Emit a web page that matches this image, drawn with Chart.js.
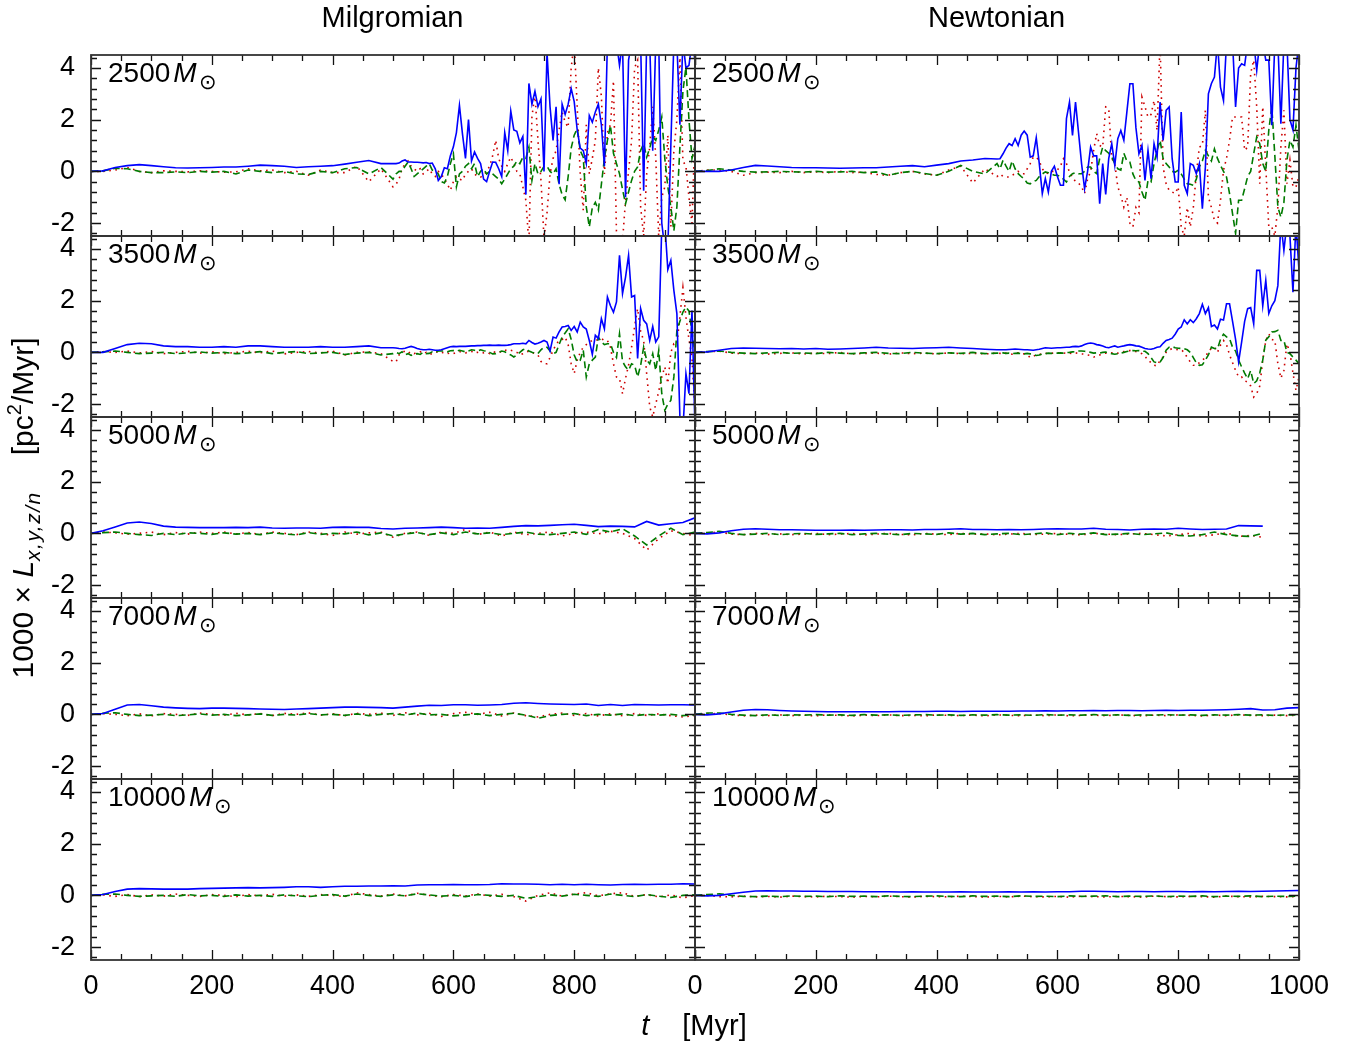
<!DOCTYPE html>
<html>
<head>
<meta charset="utf-8">
<title>L components vs time</title>
<script src="https://cdn.jsdelivr.net/npm/chart.js@4/dist/chart.umd.min.js"></script>
<style>
body{margin:0;background:#fff}
#wrap{position:relative;width:1358px;height:1046px;overflow:hidden}
#c{position:absolute;left:0;top:0}
.txt{position:absolute;font-family:'Liberation Sans',Arial,sans-serif;font-size:28px;line-height:28px;color:#000;white-space:nowrap}
.txt i{font-style:italic}
.mass sub{font-size:21px;line-height:0;vertical-align:-7px;margin-left:2px}
#ytitle sub{font-size:21px;line-height:0;vertical-align:-7px;letter-spacing:1.5px}
#ytitle sup{font-size:20px;line-height:0;vertical-align:12px}
</style>
</head>
<body>
<div id="wrap">
<canvas id="c" width="1358" height="1046"></canvas>
<div class="txt" style="left:91px;width:603px;text-align:center;top:3px;font-size:29px">Milgromian</div>
<div class="txt" style="left:694px;width:605px;text-align:center;top:3px;font-size:29px">Newtonian</div>
<div class="txt" id="ytitle" style="left:-187px;top:494px;width:420px;text-align:center;transform:rotate(-90deg);font-size:30px">1000 × <i>L</i><sub><i>x,y,z/n</i></sub><span style="margin-left:36px">[pc<sup>2</sup>/Myr]</span></div>
<div class="txt" style="left:494px;top:1011px;width:400px;text-align:center;font-size:29px"><i>t</i><span style="margin-left:33px">[Myr]</span></div>
</div>
<script>
// time grids (Myr)
const tQ = [0,20,40,60,80,100,120,140,160,180,200,220,240,260,280,300,320,340,360,380,
  400,420,440,460,480,500,520,540,560,580,600,620,640,660,680,700,720,740,760,780,
  800,820,840,860,880,900,920,940,960,980,1000];
const tN = [0,20,40,60,80,100,120,140,160,180,200,220,240,260,280,300,320,340,360,380,400,420,440,460,480,500,
  505,510,515,520,525,530,535,540,545,550,
  555,560,565,570,575,580,585,590,595,600,
  605,610,615,620,625,630,635,640,645,650,
  655,660,665,670,675,680,685,690,695,700,
  705,710,715,720,725,730,735,740,745,750,
  755,760,765,770,775,780,785,790,795,800,
  805,810,815,820,825,830,835,840,845,850,
  855,860,865,870,875,880,885,890,895,900,
  905,910,915,920,925,930,935,940,945,950,
  955,960,965,970,975,980,985,990,995,1000];

const masses = ['2500', '3500', '5000', '7000', '10000'];
const xTicksM = [0, 200, 400, 600, 800];
const xTicksN = [0, 200, 400, 600, 800, 1000];
const yTicks = [-2, 0, 2, 4];

// ---- 2500 Msun (tN grid) ----
const mil2500Blue = [0,0.02,0.15,0.22,0.26,0.22,0.18,0.14,0.13,0.14,0.15,0.17,0.17,0.2,0.24,0.22,0.2,0.15,0.18,0.2,0.22,0.28,0.35,0.42,0.3,0.3,
  0.3,0.32,0.4,0.44,0.36,0.36,0.35,0.35,0.34,0.33,
  0.34,0.3,0.32,0.1,-0.35,-0.2,0.14,0.1,0.6,0.95,
  1.5,2.55,1.45,0.5,2.0,0.4,0.75,0.5,0.3,-0.3,
  -0.4,0.0,0.36,0.35,0.1,-0.2,1.5,0.8,2.33,1.6,
  1.55,1.1,1.35,-0.9,3.4,2.6,3.1,2.5,2.8,0.0,
  4.6,2.5,1.2,2.5,-0.5,2.6,2.2,2.6,3.2,2.7,
  1.6,0.9,0.8,0.3,2.16,1.9,2.3,2.6,1.8,0.2,
  5.0,5.5,5.0,5.0,4.1,5.0,-1.0,4.3,5.0,5.0,
  5.0,5.0,-0.75,5.0,5.0,0.8,5.0,5.0,-2.0,-3.0,
  -3.0,1.0,5.0,5.0,1.8,5.0,4.0,4.1,5.0,4.3];
const mil2500Green = [0,0.02,0.12,0.1,0.0,-0.05,-0.05,-0.02,-0.05,0.0,-0.03,0.0,-0.1,0.05,0.0,-0.05,0.0,-0.1,-0.12,0.0,-0.05,0.1,0.15,-0.1,0.15,-0.3,
  -0.1,0.0,0.0,0.2,0.36,0.1,-0.2,-0.1,0.0,0.1,
  0.2,0.3,0.05,0.0,-0.1,-0.4,-0.45,-0.2,0.3,0.68,
  -0.6,-0.1,0.0,0.2,0.3,0.1,0.3,-0.2,0.0,0.1,
  -0.1,0.0,-0.1,-0.2,-0.3,-0.48,-0.3,-0.1,0.1,0.2,
  0.4,0.3,0.55,0.5,0.94,-0.35,0.3,-0.1,0.0,0.2,
  0.2,0.0,-0.1,0.1,-0.5,-0.9,-1.1,-0.2,0.9,1.4,
  1.65,0.8,0.55,-1.38,-2.15,-1.4,-1.2,-1.5,-0.5,0.5,
  1.2,1.78,0.7,0.3,-0.09,-0.7,-1.25,-0.8,-0.35,0.0,
  0.17,0.81,1.07,0.55,0.9,1.33,1.2,1.6,2.1,0.5,
  -0.6,-1.38,-2.3,-1.38,0.94,3.1,4.03,2.0,0.5,1.0];
const mil2500Red = [0,0.0,0.05,0.15,0.0,-0.05,0.02,0.0,-0.02,0.02,0.0,-0.03,-0.02,0.1,0.02,0.05,-0.05,0.0,-0.15,0.05,-0.05,-0.05,0.2,-0.4,0.1,-0.6,
  -0.5,-0.3,0.1,0.3,0.4,0.2,0.1,0.0,0.1,-0.1,
  0.0,0.1,-0.1,-0.2,0.0,-0.1,-0.3,-0.5,-0.73,-0.4,
  -0.2,-0.3,-0.35,-0.1,0.0,0.1,-0.1,-0.2,-0.22,-0.15,
  0.0,0.2,0.6,1.2,0.5,0.2,0.0,0.3,0.55,0.3,
  0.0,-0.1,-0.6,-1.12,-2.8,2.1,3.0,1.2,-0.35,-2.6,
  -1.6,-0.1,0.5,0.8,1.6,2.3,1.9,1.7,4.0,5.0,
  2.5,-0.1,-1.5,1.8,-0.1,0.5,1.2,4.0,2.9,-0.1,
  1.5,1.8,3.5,-2.4,-2.6,-2.7,-1.12,0.0,1.2,4.0,
  4.3,-1.38,-2.5,-0.1,0.95,2.5,0.55,-2.6,-1.0,-0.6,
  1.4,-2.15,0.8,2.0,4.4,0.4,0.2,-1.0,-2.0,1.5];
const newt2500Blue = [0,0.0,0.0,0.05,0.15,0.23,0.21,0.18,0.15,0.14,0.14,0.13,0.12,0.13,0.14,0.14,0.17,0.2,0.22,0.18,0.24,0.3,0.4,0.44,0.5,0.48,
  0.49,0.68,0.9,1.07,1.0,1.26,1.0,1.4,1.56,1.4,
  0.55,0.6,1.3,0.3,-0.86,-0.28,-0.8,0.0,0.2,-0.2,
  -0.54,-0.54,2.04,2.68,1.39,2.68,1.5,0.3,-0.67,0.0,
  0.94,0.6,0.6,-1.25,0.3,-0.89,0.5,1.07,0.23,1.26,
  1.58,1.2,2.29,3.39,3.39,1.69,0.68,1.0,-0.35,0.81,
  -0.28,1.07,0.55,2.68,1.2,2.36,2.49,0.49,-0.41,-0.41,
  2.29,-0.54,-0.86,0.3,0.23,-0.09,0.3,-1.44,0.17,3.0,
  3.4,3.65,5.0,3.26,2.74,5.0,5.0,5.0,2.49,4.0,
  4.16,4.1,5.0,5.0,5.0,3.9,5.0,5.0,4.3,4.3,
  1.78,5.0,5.0,1.84,5.0,5.0,2.0,1.6,4.0,5.0];
const newt2500Green = [0,0.03,0.1,0.05,0.0,-0.03,-0.02,0.0,-0.02,-0.03,0.0,-0.03,-0.02,0.0,-0.05,-0.02,-0.15,-0.05,0.0,-0.08,-0.15,0.0,0.23,0.0,-0.1,0.3,
  0.1,0.43,0.2,0.0,0.4,0.1,-0.09,-0.2,-0.3,-0.45,
  -0.48,-0.4,-0.35,-0.2,-0.1,-0.02,-0.05,-0.1,-0.15,-0.15,
  -0.2,-0.3,-0.41,-0.2,-0.09,-0.05,-0.09,-0.09,0.0,0.17,
  0.17,0.0,-0.09,0.5,0.94,0.8,0.7,0.55,0.3,0.1,
  0.05,0.7,0.4,0.36,-0.1,-0.35,-0.41,-0.8,-1.12,-0.35,
  -0.41,0.3,0.81,1.2,0.5,0.3,0.17,0.0,-0.03,0.04,
  -0.1,-0.3,-0.48,-0.5,-0.54,-0.3,0.17,0.4,0.81,0.6,
  0.4,0.87,0.5,0.23,0.0,-0.22,-0.86,-1.64,-2.4,-1.12,
  -1.12,-0.67,-0.2,0.0,0.68,1.33,1.07,0.3,0.0,1.6,
  2.49,0.6,-1.38,-1.77,-1.2,0.43,1.2,0.94,1.78,0.81];
const newt2500Red = [0,0.05,0.05,0.0,-0.15,-0.05,-0.03,-0.05,0.0,-0.05,-0.02,-0.05,0.0,-0.05,-0.03,-0.12,-0.15,-0.05,0.0,-0.1,-0.15,0.05,0.2,-0.45,0.1,-0.2,
  -0.1,-0.2,-0.22,-0.22,-0.15,-0.09,0.0,-0.09,-0.09,0.1,
  0.3,0.55,0.55,0.4,0.1,-0.05,-0.09,0.0,0.0,0.05,
  0.2,0.49,0.3,-0.03,-0.22,-0.4,-0.45,-0.6,-0.86,-0.3,
  0.0,0.81,1.46,1.0,0.94,2.49,2.43,0.5,0.3,-0.6,
  -0.93,-1.38,-1.0,-2.0,-2.15,-1.4,-1.6,2.87,2.5,2.1,
  2.2,2.74,1.58,5.0,0.17,-0.48,-0.73,-0.8,-0.86,-0.6,
  -2.15,-2.5,-1.4,-2.15,-1.4,-0.1,0.94,1.0,2.36,-0.99,
  -1.4,-1.9,-2.0,-1.12,0.04,0.5,1.2,2.1,2.1,2.1,
  2.1,0.81,0.94,3.8,4.3,2.5,-0.48,2.5,0.17,-2.15,
  -2.15,-2.5,-1.38,0.94,2.36,-0.48,0.43,-0.6,-0.6,-0.2];

// ---- 3500 Msun (tN grid) ----
const mil3500Blue = [0,0.0,0.15,0.3,0.35,0.33,0.25,0.22,0.22,0.2,0.2,0.22,0.2,0.25,0.25,0.22,0.2,0.2,0.2,0.22,0.2,0.2,0.22,0.25,0.18,0.18,
  0.17,0.15,0.14,0.16,0.2,0.23,0.2,0.15,0.12,0.1,
  0.1,0.12,0.1,0.08,0.08,0.1,0.14,0.18,0.22,0.23,
  0.22,0.23,0.23,0.23,0.24,0.25,0.25,0.26,0.26,0.27,
  0.27,0.28,0.27,0.27,0.28,0.27,0.27,0.28,0.3,0.33,
  0.33,0.33,0.35,0.33,0.46,0.38,0.32,0.35,0.4,0.46,
  0.4,0.05,0.59,0.55,0.79,0.98,1.0,1.04,0.85,1.0,
  0.79,1.17,0.98,0.9,0.46,-0.08,0.66,0.53,1.3,0.91,
  2.14,1.8,1.55,1.95,3.75,2.27,2.91,3.75,2.14,2.2,
  -0.24,1.69,1.24,1.1,0.46,1.0,0.4,0.6,4.9,5.0,
  3.2,3.56,2.4,1.5,-2.5,-3.0,-0.82,-1.6,1.62,-3.0];
const mil3500Green = [0,0.02,0.05,0.0,-0.05,-0.03,0.0,-0.05,-0.02,0.02,-0.03,0.0,-0.05,-0.02,0.03,-0.05,0.0,0.03,-0.05,-0.02,0.0,-0.08,-0.03,0.0,-0.1,-0.05,
  0.0,-0.05,0.02,-0.1,-0.05,-0.12,-0.07,-0.05,-0.08,0.0,
  -0.05,-0.04,0.02,0.0,0.05,0.05,0.05,0.02,0.06,0.07,
  0.05,0.08,0.05,0.02,0.05,0.1,0.08,0.05,0.1,0.06,
  0.05,0.0,-0.06,-0.05,0.0,0.05,0.02,-0.05,-0.1,-0.18,
  -0.1,0.0,0.1,0.14,0.05,0.0,-0.03,-0.05,0.1,0.2,
  0.2,0.05,-0.05,0.0,0.3,0.59,0.75,0.91,0.5,-0.1,
  -0.37,-0.3,0.08,-0.95,-0.44,-0.3,-0.18,0.59,0.4,0.3,
  0.33,0.33,0.0,-0.2,0.72,-0.35,-0.56,-0.69,-0.44,-0.5,
  -0.95,-0.5,0.2,-0.3,-0.44,-0.05,-0.7,0.08,-1.6,-2.24,
  -2.0,-1.86,-0.95,0.85,1.2,1.56,1.75,1.6,0.8,-0.05];
const mil3500Red = [0,0.03,0.0,0.05,-0.02,0.03,-0.05,0.0,0.04,-0.03,0.02,-0.05,0.0,0.04,-0.02,0.05,-0.06,0.0,0.03,-0.02,0.05,-0.1,0.0,0.02,-0.05,-0.35,
  -0.37,-0.1,0.0,0.05,-0.03,0.02,-0.05,0.0,0.03,-0.05,
  0.0,-0.08,-0.05,0.0,0.03,-0.02,0.0,-0.05,-0.02,-0.05,
  0.0,0.03,0.0,-0.02,0.0,0.04,-0.03,0.0,0.02,-0.02,
  0.0,-0.05,0.03,0.0,-0.02,0.05,0.1,0.05,0.08,0.05,
  0.0,-0.1,-0.05,0.0,0.05,0.0,-0.05,-0.1,-0.35,-0.44,
  -0.44,-0.2,0.08,0.3,0.46,0.5,0.59,0.3,-0.44,-0.82,
  -0.3,0.0,0.2,0.3,0.4,0.46,0.45,0.5,0.53,0.46,
  0.46,0.2,-0.44,-0.95,-1.0,-1.6,-1.0,-0.5,0.2,1.0,
  1.69,0.8,0.46,-0.82,-2.1,-2.5,-2.0,-1.5,-0.95,-0.56,
  -1.2,0.0,0.33,0.3,1.37,2.5,1.37,0.5,-0.2,-2.24];
const newt3500Blue = [0,0.02,0.08,0.15,0.17,0.16,0.15,0.14,0.15,0.13,0.15,0.12,0.13,0.15,0.17,0.2,0.17,0.16,0.15,0.17,0.18,0.2,0.17,0.15,0.12,0.1,
  0.1,0.1,0.1,0.11,0.12,0.13,0.12,0.11,0.1,0.1,
  0.09,0.08,0.1,0.12,0.15,0.18,0.17,0.16,0.17,0.18,
  0.18,0.19,0.2,0.2,0.22,0.23,0.22,0.25,0.3,0.34,
  0.36,0.34,0.3,0.28,0.25,0.2,0.18,0.22,0.25,0.2,
  0.23,0.25,0.28,0.3,0.28,0.25,0.24,0.2,0.15,0.13,
  0.12,0.15,0.2,0.22,0.35,0.46,0.5,0.55,0.7,0.9,
  0.98,1.26,1.1,1.26,1.15,1.3,1.5,1.86,1.5,1.73,
  1.0,1.06,0.9,1.28,1.25,1.88,1.88,1.2,0.5,-0.37,
  0.4,1.2,1.69,1.73,1.1,3.17,3.17,1.8,2.78,1.5,
  1.8,2.0,2.58,5.0,3.94,5.0,4.5,2.33,5.0,3.17];
const newt3500Green = [0,0.03,0.05,0.0,-0.03,-0.05,-0.02,0.0,-0.04,-0.02,-0.05,0.0,-0.03,-0.05,-0.02,0.0,-0.04,-0.05,0.0,-0.03,-0.05,-0.02,-0.04,0.0,-0.05,-0.03,
  -0.03,-0.02,-0.04,-0.03,-0.05,-0.04,-0.03,-0.05,-0.06,-0.04,
  -0.06,-0.08,-0.12,-0.1,-0.06,-0.05,-0.03,-0.04,-0.03,-0.03,
  -0.02,-0.03,-0.01,0.0,0.02,0.03,0.05,0.05,0.04,0.03,
  0.0,-0.03,-0.02,-0.03,0.0,0.01,-0.02,-0.05,-0.07,-0.05,
  -0.03,0.0,0.03,0.06,0.07,0.06,0.07,0.05,0.04,-0.05,
  -0.2,-0.37,-0.4,-0.37,-0.2,0.08,0.2,0.22,0.18,0.16,
  0.15,0.14,0.1,0.0,-0.2,-0.4,-0.5,-0.48,-0.3,-0.1,
  0.2,0.15,0.14,0.5,0.7,0.6,0.53,0.2,0.05,-0.3,
  -0.56,-0.8,-1.02,-0.7,-1.21,-1.1,-0.8,-0.3,0.47,0.6,
  0.79,0.8,0.85,0.46,0.46,0.0,-0.05,-0.18,-0.3,-0.44];
const newt3500Red = [0,0.02,0.05,-0.03,-0.05,-0.03,-0.07,-0.04,-0.02,-0.06,-0.03,-0.05,0.0,-0.06,-0.04,-0.03,-0.07,-0.02,-0.05,-0.03,-0.06,-0.02,-0.05,-0.04,-0.06,-0.03,
  -0.04,-0.06,-0.03,-0.05,-0.07,-0.04,-0.02,-0.05,-0.06,-0.1,
  -0.2,-0.15,-0.1,-0.08,-0.06,-0.03,-0.05,-0.04,-0.02,-0.03,
  -0.01,-0.02,-0.04,-0.03,-0.05,-0.02,-0.04,-0.06,-0.07,-0.1,
  -0.12,-0.18,-0.15,-0.1,-0.05,-0.03,-0.04,-0.02,-0.01,-0.03,
  0.0,0.03,0.06,0.07,0.05,0.03,0.0,-0.05,-0.15,-0.3,
  -0.4,-0.5,-0.52,-0.3,-0.18,0.0,0.1,0.14,0.12,0.1,
  0.1,0.0,-0.2,-0.37,-0.5,-0.5,-0.4,-0.3,-0.2,0.05,
  0.15,0.2,0.0,0.28,0.46,0.3,-0.1,-0.4,-0.7,-0.95,
  -0.95,-1.1,-1.15,-1.3,-1.73,-1.6,-1.3,-0.3,0.46,0.72,
  0.5,0.46,-0.44,-1.0,-0.7,0.33,0.0,-0.8,-1.47,-0.95];

// ---- 5000 Msun (tQ grid) ----
const mil5000Blue = [0,0.1,0.25,0.4,0.44,0.38,0.28,0.24,0.23,0.22,
  0.22,0.22,0.23,0.22,0.24,0.21,0.2,0.21,0.21,0.2,
  0.23,0.24,0.23,0.23,0.19,0.17,0.2,0.21,0.22,0.24,
  0.22,0.2,0.21,0.2,0.23,0.27,0.3,0.29,0.31,0.33,
  0.35,0.31,0.26,0.28,0.27,0.25,0.46,0.32,0.37,0.42,0.6];
const mil5000Green = [0,0.03,0.05,0.0,-0.05,-0.08,0.0,-0.05,0.02,0.0,
  -0.04,0.02,-0.03,0.0,-0.05,0.02,-0.02,-0.06,0.03,-0.04,
  0.0,-0.02,0.05,-0.06,0.02,-0.1,-0.02,0.03,-0.05,0.02,
  -0.05,0.05,-0.02,0.02,-0.05,0.0,0.05,-0.03,-0.05,0.0,
  0.05,-0.04,0.15,0.05,0.18,-0.1,-0.45,-0.1,0.2,-0.05,0.05];
const mil5000Red = [0,0.05,0.02,-0.03,0.0,0.05,-0.05,0.03,-0.03,0.05,
  0.0,0.05,-0.02,0.03,-0.04,0.05,0.0,-0.05,0.05,0.0,
  -0.08,0.05,-0.03,0.02,0.05,-0.15,0.0,0.05,-0.08,0.05,
  0.0,0.15,-0.05,0.05,-0.1,0.05,-0.05,0.0,0.05,-0.1,
  0.0,0.05,-0.02,0.08,0.0,-0.2,-0.65,-0.2,0.1,0.0,-0.1];
const newt5000Blue = [0,-0.02,0.02,0.1,0.16,0.18,0.16,0.14,0.14,0.13,
  0.12,0.12,0.12,0.13,0.12,0.13,0.14,0.14,0.13,0.15,
  0.15,0.16,0.18,0.15,0.15,0.14,0.15,0.14,0.15,0.17,
  0.18,0.17,0.17,0.2,0.16,0.15,0.13,0.16,0.17,0.16,
  0.2,0.17,0.15,0.16,0.17,0.3,0.29,0.28,null,null,null];
const newt5000Green = [0,0.03,0.08,0.0,-0.05,-0.03,0.0,-0.05,-0.02,0.0,
  -0.04,-0.02,0.0,-0.05,-0.02,0.0,-0.03,-0.05,0.0,-0.02,
  -0.04,0.02,-0.03,0.0,-0.05,-0.02,0.0,-0.05,-0.02,0.02,
  -0.05,0.0,-0.03,0.02,-0.05,-0.03,0.0,-0.05,-0.02,0.02,
  -0.08,-0.1,-0.05,0.05,-0.05,-0.1,-0.12,0.0,null,null,null];
const newt5000Red = [0,0.02,0.05,-0.03,-0.05,0.0,-0.05,-0.02,-0.05,-0.03,
  0.0,-0.05,-0.03,0.0,-0.06,-0.03,0.0,-0.04,-0.06,0.0,
  -0.03,-0.05,0.0,-0.04,-0.02,-0.06,-0.03,0.0,-0.05,-0.03,
  0.0,-0.04,-0.06,0.0,-0.03,-0.05,-0.02,0.0,-0.05,-0.1,
  -0.05,0.0,-0.12,-0.05,0.02,-0.12,-0.08,-0.15,null,null,null];

// ---- 7000 Msun (tQ grid) ----
const mil7000Blue = [0,0.03,0.2,0.36,0.38,0.33,0.28,0.25,0.23,0.22,
  0.24,0.24,0.23,0.22,0.21,0.2,0.19,0.21,0.22,0.24,
  0.26,0.28,0.28,0.27,0.26,0.24,0.28,0.32,0.35,0.34,
  0.37,0.37,0.35,0.36,0.38,0.43,0.45,0.42,0.4,0.39,
  0.38,0.4,0.34,0.38,0.34,0.38,0.37,0.36,0.37,0.37,0.36];
const mil7000Green = [0,0.04,0.06,0.0,-0.05,-0.03,0.0,-0.05,-0.02,0.02,
  -0.03,0.0,-0.05,-0.02,0.02,-0.04,0.0,-0.03,0.03,-0.02,
  0.0,-0.04,0.02,-0.05,0.0,0.03,-0.03,0.05,-0.02,0.0,
  -0.06,-0.02,0.02,-0.05,0.0,0.04,-0.03,-0.15,-0.05,0.0,
  0.03,-0.05,0.0,-0.03,0.02,-0.05,0.0,-0.03,0.0,-0.05,-0.02];
const mil7000Red = [0,0.03,0.0,-0.05,0.02,-0.06,0.03,0.0,-0.04,0.05,
  0.0,-0.03,0.04,-0.02,0.03,-0.05,0.04,0.0,0.06,-0.03,
  0.02,-0.05,0.04,0.0,0.05,-0.04,0.06,-0.02,0.04,-0.08,
  0.03,0.08,0.0,0.08,-0.06,0.05,-0.05,-0.1,0.0,0.05,
  -0.04,0.03,-0.06,0.02,-0.05,0.03,-0.04,0.02,-0.05,-0.1,-0.04];
const newt7000Blue = [0,-0.02,0.02,0.09,0.16,0.19,0.18,0.15,0.13,0.12,
  0.11,0.1,0.1,0.1,0.1,0.1,0.1,0.11,0.11,0.11,
  0.12,0.12,0.11,0.12,0.12,0.12,0.12,0.13,0.13,0.14,
  0.13,0.14,0.14,0.15,0.14,0.15,0.15,0.14,0.15,0.16,
  0.15,0.16,0.16,0.17,0.18,0.2,0.22,0.17,0.18,0.24,0.26];
const newt7000Green = [0,0.05,0.05,0.0,-0.03,-0.05,-0.02,-0.04,-0.02,-0.03,
  -0.01,-0.03,-0.02,-0.04,-0.01,-0.03,-0.02,-0.04,-0.02,-0.01,
  -0.03,-0.02,-0.04,-0.02,-0.03,-0.01,-0.03,-0.02,-0.04,-0.01,
  -0.03,-0.02,-0.03,-0.01,-0.03,-0.02,-0.04,-0.02,-0.03,-0.01,
  -0.03,-0.02,-0.04,-0.02,-0.03,-0.01,-0.03,-0.02,-0.04,-0.02,-0.02];
const newt7000Red = [0,0.02,0.03,-0.02,-0.06,-0.03,-0.05,-0.02,-0.05,-0.03,
  -0.06,-0.02,-0.04,-0.06,-0.03,-0.05,-0.02,-0.05,-0.04,-0.06,
  -0.02,-0.04,-0.05,-0.03,-0.06,-0.02,-0.04,-0.05,-0.03,-0.05,
  -0.02,-0.06,-0.04,-0.03,-0.05,-0.02,-0.04,-0.06,-0.03,-0.05,
  -0.02,-0.04,-0.06,-0.03,-0.05,-0.02,-0.04,-0.05,-0.03,-0.05,-0.03];

// ---- 10000 Msun (tQ grid) ----
const mil10000Blue = [0,0.03,0.15,0.24,0.26,0.25,0.24,0.24,0.24,0.26,
  0.27,0.28,0.29,0.3,0.29,0.3,0.31,0.33,0.33,0.31,
  0.33,0.35,0.35,0.36,0.36,0.37,0.36,0.4,0.41,0.41,
  0.42,0.41,0.41,0.42,0.45,0.44,0.44,0.43,0.41,0.43,
  0.41,0.43,0.41,0.4,0.42,0.43,0.42,0.43,0.43,0.45,0.44];
const mil10000Green = [0,0.04,0.05,0.0,-0.04,-0.02,0.0,-0.04,0.03,-0.02,
  0.0,-0.04,0.02,-0.03,0.0,-0.04,0.02,-0.02,-0.05,0.0,
  0.03,-0.03,0.05,0.0,-0.04,0.02,-0.02,0.06,0.02,-0.03,
  0.0,-0.05,0.03,0.0,-0.04,0.0,-0.12,-0.05,0.02,-0.03,
  0.04,0.0,-0.04,0.05,0.0,-0.05,0.03,-0.03,-0.08,0.0,0.02];
const mil10000Red = [0,0.02,-0.04,0.03,-0.05,0.02,-0.03,0.05,0.0,-0.04,
  0.03,0.0,-0.05,0.03,-0.02,0.04,-0.03,0.02,-0.04,0.03,
  0.0,-0.05,0.1,0.03,-0.03,0.05,-0.02,0.08,0.0,-0.05,
  0.03,-0.02,0.05,-0.03,0.04,-0.05,-0.22,0.0,0.1,-0.03,
  0.05,0.1,-0.02,0.06,0.1,-0.04,0.03,-0.06,0.02,-0.1,0.0];
const newt10000Blue = [0,-0.02,0.0,0.06,0.12,0.17,0.18,0.17,0.17,0.16,
  0.16,0.15,0.15,0.15,0.14,0.14,0.14,0.13,0.14,0.13,
  0.13,0.13,0.14,0.13,0.13,0.13,0.14,0.13,0.14,0.13,
  0.14,0.14,0.16,0.16,0.15,0.14,0.15,0.15,0.14,0.15,
  0.15,0.14,0.15,0.14,0.15,0.16,0.15,0.16,0.17,0.18,0.19];
const newt10000Green = [0,0.03,0.06,0.0,-0.04,-0.05,-0.03,-0.05,-0.02,-0.04,
  -0.03,-0.05,-0.02,-0.04,-0.03,-0.05,-0.02,-0.04,-0.05,-0.03,
  -0.02,-0.04,-0.05,-0.02,-0.04,-0.03,-0.05,-0.02,-0.04,-0.03,
  -0.05,-0.02,-0.04,-0.03,-0.02,-0.05,-0.03,-0.04,-0.02,-0.05,
  -0.03,-0.04,-0.02,-0.05,-0.03,-0.04,-0.02,-0.05,-0.03,-0.04,-0.03];
const newt10000Red = [0,0.0,-0.05,-0.06,-0.03,-0.06,-0.04,-0.07,-0.03,-0.05,
  -0.06,-0.03,-0.05,-0.07,-0.04,-0.06,-0.03,-0.05,-0.07,-0.04,
  -0.05,-0.06,-0.03,-0.05,-0.07,-0.04,-0.06,-0.03,-0.05,-0.06,
  -0.04,-0.07,-0.03,-0.05,-0.06,-0.04,-0.05,-0.07,-0.03,-0.05,
  -0.06,-0.04,-0.05,-0.07,-0.03,-0.05,-0.06,-0.04,-0.05,-0.06,-0.04];

// panels: [row, column, time grid, blue, green, red]
const panels = [
  [0, 'xM', tN, mil2500Blue, mil2500Green, mil2500Red],
  [0, 'xN', tN, newt2500Blue, newt2500Green, newt2500Red],
  [1, 'xM', tN, mil3500Blue, mil3500Green, mil3500Red],
  [1, 'xN', tN, newt3500Blue, newt3500Green, newt3500Red],
  [2, 'xM', tQ, mil5000Blue, mil5000Green, mil5000Red],
  [2, 'xN', tQ, newt5000Blue, newt5000Green, newt5000Red],
  [3, 'xM', tQ, mil7000Blue, mil7000Green, mil7000Red],
  [3, 'xN', tQ, newt7000Blue, newt7000Green, newt7000Red],
  [4, 'xM', tQ, mil10000Blue, mil10000Green, mil10000Red],
  [4, 'xN', tQ, newt10000Blue, newt10000Green, newt10000Red]
];

const FONT = "'Liberation Sans', Arial, sans-serif";
const pts = (t, v) => t.map((x, i) => ({ x: x, y: v[i] }));

const datasets = [];
panels.forEach(([row, xid, t, b, g, r]) => {
  const yid = 'y' + row;
  datasets.push({ data: pts(t, b), xAxisID: xid, yAxisID: yid, borderColor: '#0000ff', borderWidth: 1.6 });
  datasets.push({ data: pts(t, g), xAxisID: xid, yAxisID: yid, borderColor: '#007a00', borderWidth: 1.6, borderDash: [7, 4] });
  datasets.push({ data: pts(t, r), xAxisID: xid, yAxisID: yid, borderColor: '#cc0000', borderWidth: 1.6, borderDash: [1.6, 4.5] });
});

const scales = {};
['xM', 'xN'].forEach((id, k) => {
  const tk = id === 'xM' ? xTicksM : xTicksN;
  scales[id] = {
    type: 'linear', position: 'bottom', stack: 'cols', stackWeight: 1, weight: k + 1,
    min: 0, max: 1000,
    grid: { display: false, drawTicks: false }, border: { display: false },
    afterBuildTicks: s => { s.ticks = tk.map(v => ({ value: v })); },
    afterFit: s => { s.height = 86; },
    ticks: { color: '#000', font: { family: FONT, size: 27 }, padding: 10, autoSkip: false, maxRotation: 0, callback: v => String(v) }
  };
});
masses.forEach((m, row) => {
  scales['y' + row] = {
    type: 'linear', position: 'left', stack: 'rows', stackWeight: 1, weight: 10 - row,
    min: -2.5, max: 4.5,
    grid: { display: false, drawTicks: false }, border: { display: false },
    afterBuildTicks: s => { s.ticks = yTicks.map(v => ({ value: v })); },
    afterFit: s => { s.width = 91; },
    ticks: { color: '#000', font: { family: FONT, size: 27 }, padding: 16, autoSkip: false, callback: v => String(v) }
  };
});

// clip each line to its own panel, then draw frames and inward ticks
const panelFrame = {
  id: 'panelFrame',
  beforeDatasetDraw(chart, args) {
    const ds = chart.data.datasets[args.index];
    const xs = chart.scales[ds.xAxisID], ys = chart.scales[ds.yAxisID];
    const ctx = chart.ctx;
    ctx.save();
    ctx.beginPath();
    ctx.rect(xs.left, ys.top, xs.width, ys.height);
    ctx.clip();
  },
  afterDatasetDraw(chart) { chart.ctx.restore(); },
  afterDatasetsDraw(chart) {
    const ctx = chart.ctx;
    ctx.save();
    ['xM', 'xN'].forEach(xid => {
      const xs = chart.scales[xid];
      masses.forEach((m, row) => {
        const ys = chart.scales['y' + row];
        ctx.strokeStyle = '#111';
        ctx.lineWidth = 1.3;
        ctx.beginPath();
        for (let t = 0; t <= 1000; t += 50) {
          const px = Math.round(xs.getPixelForValue(t)) + 0.5;
          const len = t % 200 === 0 ? 10 : 6;
          ctx.moveTo(px, ys.bottom); ctx.lineTo(px, ys.bottom - len);
          ctx.moveTo(px, ys.top); ctx.lineTo(px, ys.top + len);
        }
        for (let k = -6; k <= 11; k++) {
          const py = Math.round(ys.getPixelForValue(k * 0.4)) + 0.5;
          const len = k % 5 === 0 ? 10 : 6;
          ctx.moveTo(xs.left, py); ctx.lineTo(xs.left + len, py);
          ctx.moveTo(xs.right, py); ctx.lineTo(xs.right - len, py);
        }
        ctx.stroke();
        ctx.strokeStyle = '#333';
        ctx.lineWidth = 1.8;
        ctx.strokeRect(xs.left, ys.top, xs.width, ys.height);
      });
    });
    ctx.restore();
  }
};

const chart = new Chart(document.getElementById('c'), {
  type: 'line',
  data: { datasets: datasets },
  options: {
    responsive: false, animation: false, devicePixelRatio: 1,
    layout: { padding: { left: 0, right: 59, top: 55, bottom: 0 } },
    elements: { point: { radius: 0 }, line: { tension: 0, borderCapStyle: 'butt' } },
    plugins: { legend: { display: false }, tooltip: { enabled: false } },
    scales: scales
  },
  plugins: [panelFrame]
});

// mass labels placed from the chart's own scales
const wrap = document.getElementById('wrap');
['xM', 'xN'].forEach(xid => {
  masses.forEach((m, row) => {
    const xs = chart.scales[xid], ys = chart.scales['y' + row];
    const d = document.createElement('div');
    d.className = 'txt mass';
    d.style.left = (xs.left + 17) + 'px';
    d.style.top = (ys.top + 4) + 'px';
    d.innerHTML = m + '<i style="margin-left:3px">M</i><sub>⊙</sub>';
    wrap.appendChild(d);
  });
});
</script>
</body>
</html>
